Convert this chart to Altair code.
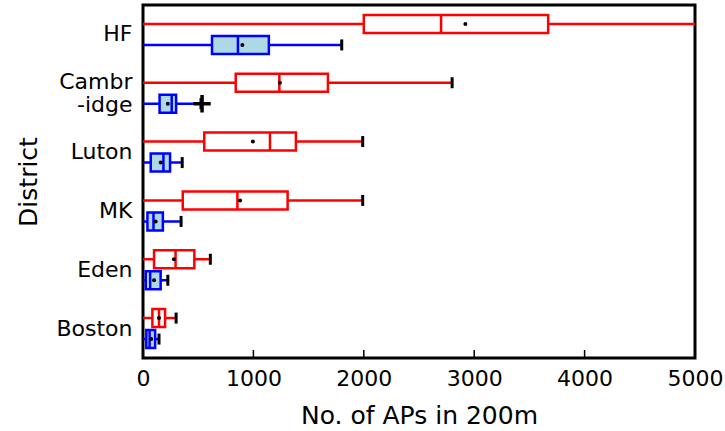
import altair as alt
import pandas as pd

districts = ["HF", "Cambr -idge", "Luton", "MK", "Eden", "Boston"]
series_names = ["Set A", "Set B"]

# Set A (red)
a_low = [0, 0, 0, 0, 0, 0]
a_q1 = [2000, 840, 555, 360, 100, 85]
a_med = [2700, 1235, 1150, 855, 295, 145]
a_q3 = [3670, 1675, 1385, 1310, 465, 200]
a_high = [5300, 2800, 1990, 1990, 610, 300]
a_mean = [2920, 1240, 995, 880, 280, 145]

# Set B (blue)
b_low = [0, 0, 0, 0, 0, 0]
b_q1 = [625, 150, 70, 40, 25, 30]
b_med = [860, 260, 185, 95, 65, 60]
b_q3 = [1140, 300, 245, 180, 160, 110]
b_high = [1800, 525, 355, 345, 225, 145]
b_mean = [900, 225, 160, 115, 100, 75]

outlier_district = ["Cambr -idge"]
outlier_series = ["Set B"]
outlier_values = [535]

x_ticks = [0, 1000, 2000, 3000, 4000, 5000]
inner_ticks = [1000, 2000, 3000, 4000]

rows = []
for i, d in enumerate(districts):
    rows.append(dict(district=d, series=series_names[0], low=a_low[i], q1=a_q1[i],
                     med=a_med[i], q3=a_q3[i], high=a_high[i], mean=a_mean[i]))
    rows.append(dict(district=d, series=series_names[1], low=b_low[i], q1=b_q1[i],
                     med=b_med[i], q3=b_q3[i], high=b_high[i], mean=b_mean[i]))
df = pd.DataFrame(rows)
out_df = pd.DataFrame(dict(district=outlier_district, series=outlier_series, value=outlier_values))
tick_df = pd.DataFrame(dict(t=inner_ticks))

FONT = "DejaVu Sans"
W, H = 552, 353

x_scale = alt.Scale(domain=[0, 5000], nice=False, zero=True)
y_enc = alt.Y("district:N", sort=districts,
              scale=alt.Scale(domain=districts, paddingInner=0, paddingOuter=0),
              axis=alt.Axis(title="District", labelExpr="split(datum.label, ' ')",
                            labelFontSize=22, titleFontSize=25, ticks=False, domain=False,
                            labelPadding=11, labelLineHeight=23, labelColor="black",
                            labelOffset={"condition": {"test": "indexof(datum.value, ' ') >= 0", "value": -11},
                                         "value": 0},
                            titleColor="black", titleFontWeight="normal",
                            labelFont=FONT, titleFont=FONT, titlePadding=14))
yoff = alt.YOffset("series:N", sort=series_names,
                   scale=alt.Scale(domain=series_names, paddingInner=0, paddingOuter=0.4))
col = alt.Color("series:N", scale=alt.Scale(domain=series_names, range=["#ff0000", "#0000ff"]), legend=None)
stroke = alt.Stroke("series:N", scale=alt.Scale(domain=series_names, range=["#ff0000", "#0000ff"]), legend=None)
fill = alt.Fill("series:N", scale=alt.Scale(domain=series_names, range=["#ffffff", "#add8e6"]), legend=None)

x_axis = alt.Axis(title="No. of APs in 200m", values=x_ticks, format="d", ticks=False, domain=False,
                  grid=False, labelPadding=10, labelFontSize=22, titleFontSize=25,
                  labelFlush=False, labelOverlap=False, labelColor="black", titleColor="black",
                  titleFontWeight="normal", labelFont=FONT, titleFont=FONT, titlePadding=14)

base = alt.Chart(df).encode(y=y_enc, yOffset=yoff)

whisker = base.mark_rule(strokeWidth=2.5, clip=True, opacity=1).encode(
    x=alt.X("low:Q", scale=x_scale, axis=x_axis), x2="high:Q", color=col)
box = base.mark_bar(size=18, strokeWidth=2.5, opacity=1).encode(
    x=alt.X("q1:Q", scale=x_scale), x2="q3:Q", stroke=stroke, fill=fill)
median = base.mark_tick(size=18, thickness=2.5, opacity=1).encode(
    x=alt.X("med:Q", scale=x_scale), color=col)
cap = base.mark_tick(size=11, thickness=3, color="black", clip=True, opacity=1).encode(
    x=alt.X("high:Q", scale=x_scale))
mean = base.mark_circle(size=16, color="black", opacity=1).encode(
    x=alt.X("mean:Q", scale=x_scale))
outl = alt.Chart(out_df).mark_point(shape="M-1,0L1,0M0,-1L0,1", size=300, color="black",
                                    filled=False, strokeWidth=3.5, opacity=1).encode(
    x=alt.X("value:Q", scale=x_scale), y=alt.Y("district:N", sort=districts),
    yOffset=alt.YOffset("series:N", sort=series_names))
inner = alt.Chart(tick_df).mark_rule(color="black", strokeWidth=1.5).encode(
    x=alt.X("t:Q", scale=x_scale), y=alt.value(H), y2=alt.value(H - 8))

chart = alt.layer(whisker, box, median, cap, outl, mean, inner).properties(
    width=W, height=H,
    autosize=alt.AutoSizeParams(type="none"),
    padding={"left": 143, "top": 5, "right": 30, "bottom": 73},
    background="white",
).configure_view(stroke="black", strokeWidth=3)

chart.save("out.html", embed_options={"renderer": "svg", "actions": False})
